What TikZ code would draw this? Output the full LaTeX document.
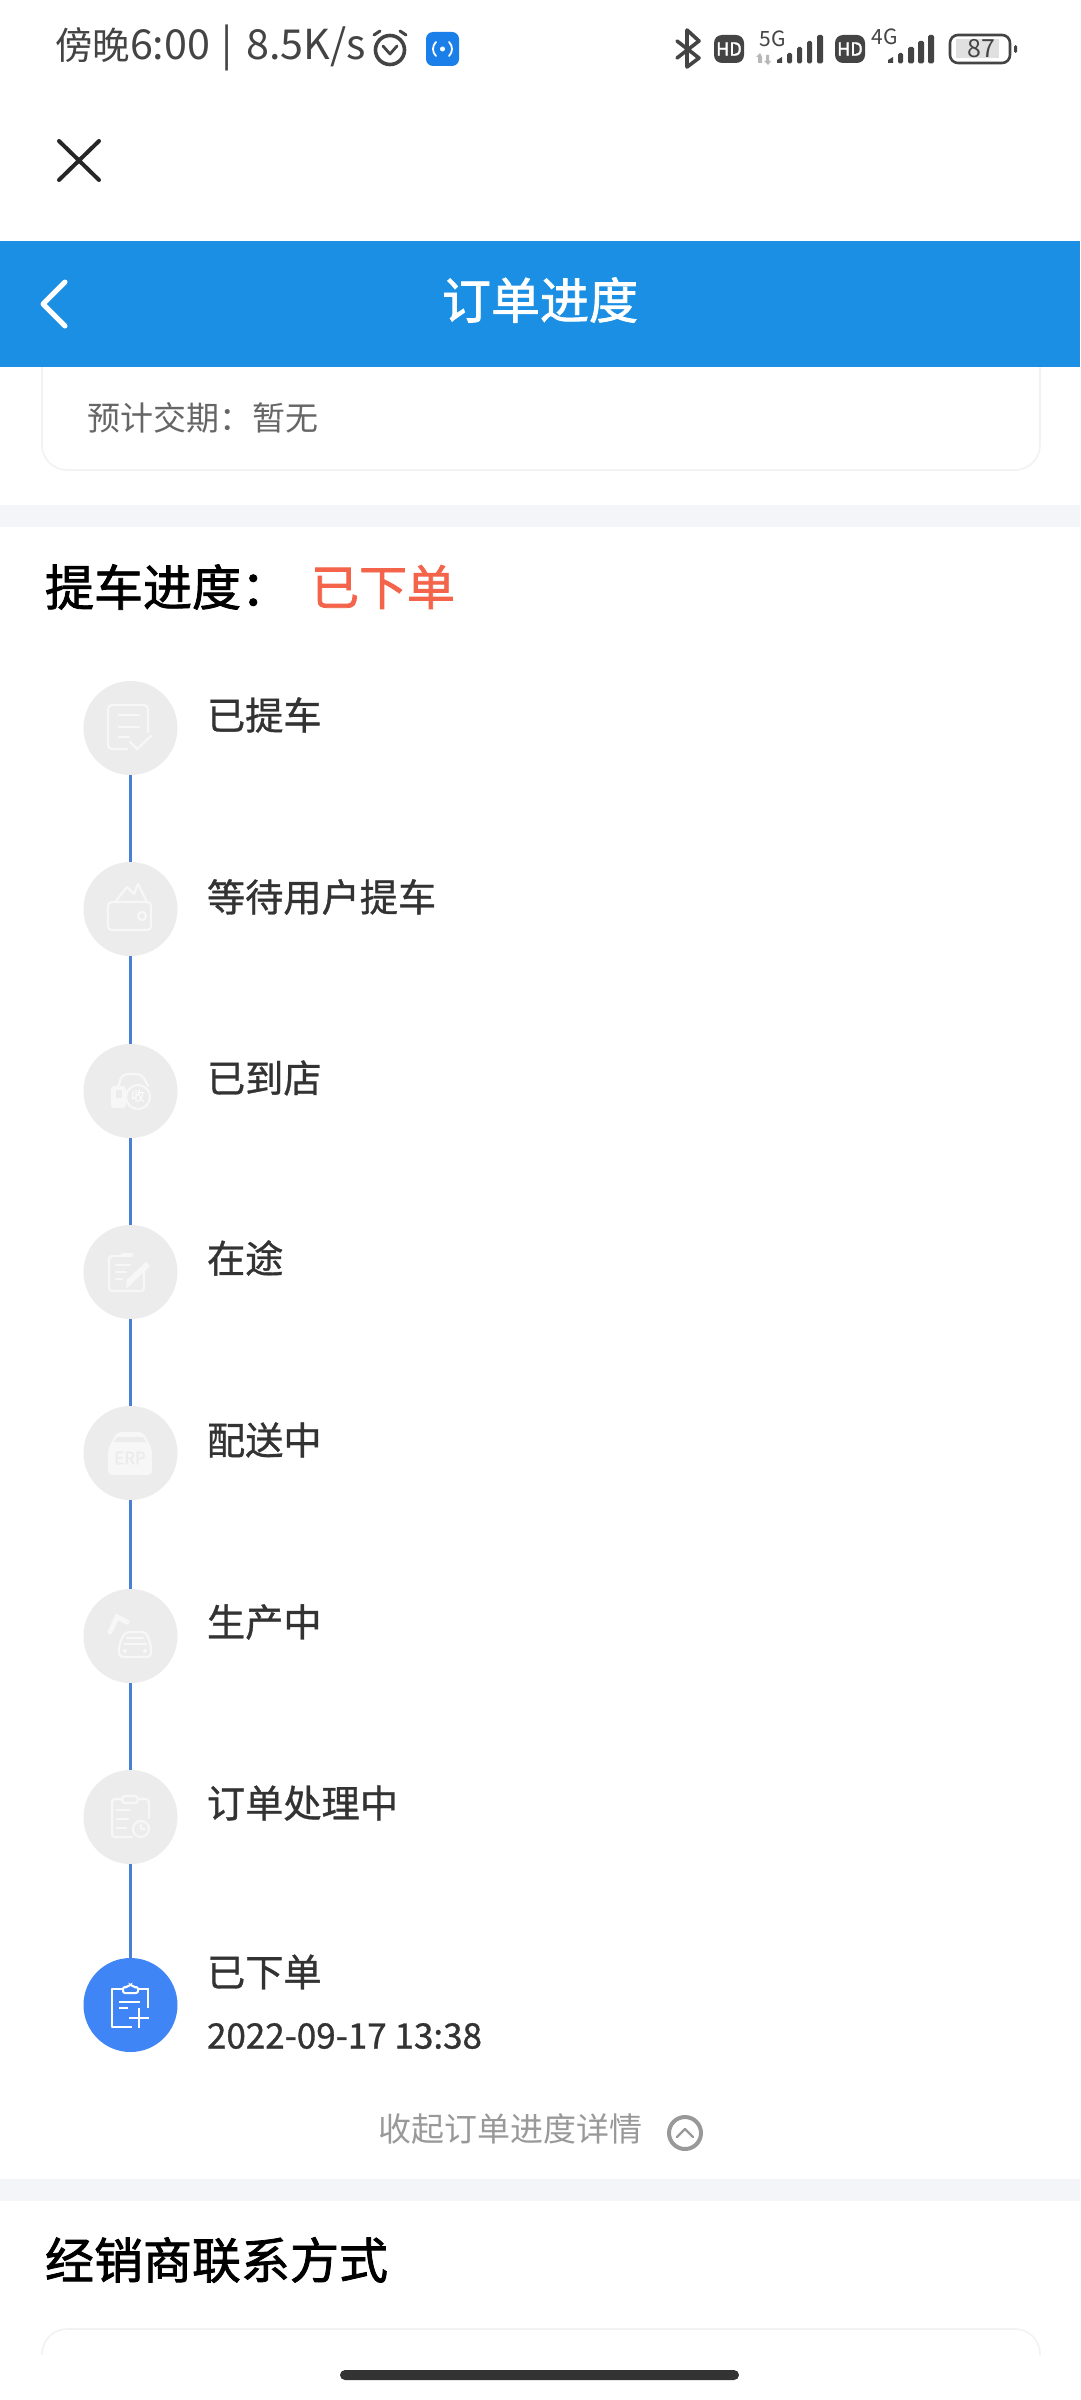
\documentclass[tikz,border=0pt]{standalone}
\usepackage{fontspec}
\setmainfont{Noto Sans CJK SC}
\newfontfamily\heavyface[FakeBold=1.6]{Noto Sans CJK SC}
\newfontfamily\midface[FakeBold=0.9]{Noto Sans CJK SC}
\newcommand{\pxfont}[1]{\fontsize{#1pt}{#1pt}\selectfont}
\definecolor{barblue}{HTML}{1A8FE3}
\definecolor{iconblue}{HTML}{1A7FE8}
\definecolor{doneblue}{HTML}{3F85F5}
\definecolor{linkblue}{HTML}{4A80D4}
\definecolor{stepgrey}{HTML}{ECECEC}
\definecolor{band}{HTML}{F4F5F9}
\definecolor{cardline}{HTML}{F2F2F4}
\definecolor{ink}{HTML}{333333}
\definecolor{statusink}{HTML}{444444}
\definecolor{hint}{HTML}{999999}
\definecolor{redorange}{HTML}{F4644A}
\tikzset{
  x=1pt,y=-1pt,
  lbl/.style={anchor=west,inner sep=0pt,outer sep=0pt,text=ink,font=\midface\pxfont{38.2}},
  plain/.style={inner sep=0pt,outer sep=0pt},
  stepdot/.style={circle,fill=stepgrey,draw=none,minimum size=94pt,inner sep=0pt,outer sep=0pt},
  donedot/.style={stepdot,fill=doneblue},
  conn/.style={draw=linkblue,line width=3.6pt},
  cardedge/.style={draw=cardline,line width=1.6pt,rounded corners=25pt},
  ic/.style={draw=white!97!black,line width=2.2pt,line cap=round,line join=round},
  icf/.style={fill=white!97!black,draw=none},
  sbar/.style={fill=statusink,draw=none,rounded corners=1.5pt},
}
\begin{document}
\begin{tikzpicture}
\useasboundingbox (0,0) rectangle (1080,2400);
\fill[white] (0,0) rectangle (1080,2400);

% status bar
\node[plain,anchor=west,text=statusink,font=\pxfont{37.5}] (clock) at (55,48) {傍晚{\pxfont{41.3}6:00\hspace{11pt}|\hspace{14pt}8.5K/s}};
\draw[statusink,line width=3.6pt] (390,50) circle (14.5pt);
\draw[statusink,line width=3pt,line cap=round] (374,35) -- (380,31) (406,35) -- (400,31);
\draw[statusink,line width=2.8pt,line cap=round,line join=round] (383,46) -- (390,54) -- (397,46);
\fill[iconblue,rounded corners=7pt] (426,32) rectangle (459,66);
\fill[white] (442.5,49) circle (2.5pt);
\draw[white,line width=1.8pt,line cap=round] (436,42) .. controls (432,46) and (432,52) .. (436,56) (449,42) .. controls (453,46) and (453,52) .. (449,56);
% right status icons
\draw[statusink,line width=3.6pt,line cap=round,line join=round] (677,41) -- (699,58) -- (687,67) -- (687,30) -- (699,41) -- (677,58);
\fill[statusink,rounded corners=8pt] (714,35) rectangle (744,63);
\node[plain,text=white,font=\heavyface\pxfont{18}] (hda) at (729,49) {HD};
\node[plain,text=statusink,font=\pxfont{21}] (fiveg) at (773,39) {5G};
\fill[black!28] (758,63) -- (758,57) -- (756,57) -- (760,53) -- (762,57) -- (762,63) -- cycle;
\fill[black!28] (766,55) -- (766,61) -- (764,61) -- (768,65) -- (771,61) -- (769,61) -- (769,55) -- cycle;
\fill[statusink] (777,63) -- (777,60) -- (782,57) -- (782,63) -- cycle;
\fill[sbar] (787,63.3) rectangle (792,53);
\fill[sbar] (797,63.3) rectangle (802,47);
\fill[sbar] (807,63.3) rectangle (812,41);
\fill[sbar] (817,63.3) rectangle (823,35);
\fill[statusink,rounded corners=8pt] (835,35) rectangle (865,63);
\node[plain,text=white,font=\heavyface\pxfont{18}] (hdb) at (850,49) {HD};
\node[plain,text=statusink,font=\pxfont{21}] (fourg) at (885,37) {4G};
\fill[statusink] (888,63) -- (888,60) -- (893,57) -- (893,63) -- cycle;
\fill[sbar] (898,63.3) rectangle (903,53);
\fill[sbar] (908,63.3) rectangle (914,47);
\fill[sbar] (918,63.3) rectangle (924,41);
\fill[sbar] (928,63.3) rectangle (934,35);
\fill[black!12] (956,39) rectangle (999,58);
\draw[statusink,line width=2.6pt,rounded corners=8pt] (950,35) rectangle (1010,63);
\fill[statusink,rounded corners=1.5pt] (1014,45) rectangle (1017,53);
\node[plain,text=statusink,font=\pxfont{25}] (batt) at (981,48.5) {87};
% close
\draw[black!85,line width=4pt,line cap=round] (59,141) -- (99,180) (99,141) -- (59,180);

% card behind the header
\draw[cardedge] (42,360) -- (42,470) -- (1040,470) -- (1040,360);
% header
\fill[barblue] (0,241) rectangle (1080,367);
\draw[white,line width=5pt,line cap=round,line join=round] (65,282) -- (43,304) -- (65,326);
\node[plain,text=white,font=\heavyface\pxfont{49}] (title) at (540,300) {订单进度};
\node[plain,anchor=west,text=black!60,font=\pxfont{33}] (eta) at (87,418) {预计交期：暂无};

% bands
\fill[band] (0,505) rectangle (1080,527);
\fill[band] (0,2179) rectangle (1080,2201);

% section head
\node[plain,anchor=west,text=black,font=\heavyface\pxfont{49}] (head) at (45,587) {提车进度：};
\node[plain,anchor=west,text=redorange,font=\heavyface\pxfont{48}] (state) at (311,587) {已下单};

% timeline
\node[stepdot] (c1) at (130.5,728) {};
\node[stepdot] (c2) at (130.5,909) {};
\node[stepdot] (c3) at (130.5,1091) {};
\node[stepdot] (c4) at (130.5,1272) {};
\node[stepdot] (c5) at (130.5,1453) {};
\node[stepdot] (c6) at (130.5,1636) {};
\node[stepdot] (c7) at (130.5,1817) {};
\node[donedot] (c8) at (130.5,2005) {};
\draw[conn] (c1) -- (c2);
\draw[conn] (c2) -- (c3);
\draw[conn] (c3) -- (c4);
\draw[conn] (c4) -- (c5);
\draw[conn] (c5) -- (c6);
\draw[conn] (c6) -- (c7);
\draw[conn] (c7) -- (c8);

\node[lbl] (t1) at (207,715) {已提车};
\node[lbl] (t2) at (207,897) {等待用户提车};
\node[lbl] (t3) at (207,1078) {已到店};
\node[lbl] (t4) at (207,1258) {在途};
\node[lbl] (t5) at (207,1440) {配送中};
\node[lbl] (t6) at (207,1622) {生产中};
\node[lbl] (t7) at (207,1803) {订单处理中};
\node[lbl] (t8) at (207,1972) {已下单};
\node[lbl,font=\midface\pxfont{35}] (t9) at (207,2036) {2022-09-17 13:38};

% icon 1: document and tick
\draw[ic,rounded corners=4pt] (148,732) -- (148,705) -- (108,705) -- (108,749) -- (127,749);
\draw[ic] (119,715) -- (139,715) (119,727) -- (139,727) (119,737) -- (129,737);
\draw[ic] (130,742) -- (137,749) -- (151,736);
% icon 2: wallet
\draw[ic,rounded corners=4pt] (108,902) rectangle (151,930);
\draw[ic] (115,902) -- (127,887) -- (134,894) -- (138,884) -- (147,902);
\draw[ic] (142,916) circle (4pt);
% icon 3: car with round stamp
\draw[ic,rounded corners=6pt] (117,1090) -- (122,1074) -- (142,1074) -- (148,1086);
\fill[white!97!black,rounded corners=3pt] (111,1086) rectangle (126,1108);
\fill[stepgrey] (116,1090) rectangle (122,1098);
\draw[ic,fill=stepgrey] (138,1097) circle (12pt);
\node[plain,text=white,font=\pxfont{14}] (stamp) at (138,1096.5) {收};
% icon 4: note and pen
\draw[ic,rounded corners=3pt] (132,1256) -- (109,1256) -- (109,1291) -- (144,1291) -- (144,1272);
\draw[ic,line width=3pt] (122,1254) -- (132,1254);
\draw[ic] (116,1265) -- (130,1265) (116,1272) -- (126,1272) (116,1279) -- (122,1279);
\draw[ic,line width=6pt,line cap=butt] (148,1264) -- (129,1282);
\fill[white!97!black] (126,1288) -- (127,1279) -- (132,1284) -- cycle;
% icon 5: box
\fill[white!97!black,rounded corners=4pt] (117,1432) -- (143,1432) -- (152,1449) -- (152,1475) -- (108,1475) -- (108,1449) -- cycle;
\fill[stepgrey] (117,1437) -- (143,1437) -- (146,1442) -- (114,1442) -- cycle;
\node[plain,text=stepgrey,font=\heavyface\itshape\pxfont{17}] (erp) at (130,1458) {ERP};
% icon 6: robot arm and car
\draw[ic,line width=5pt,line join=miter] (110,1632) -- (117,1617) -- (127,1622);
\draw[ic,rounded corners=4pt] (119,1657) -- (119,1645) -- (125,1632) -- (146,1632) -- (151,1645) -- (151,1657) -- cycle;
\draw[ic] (124,1644) -- (146,1644) (127,1638) -- (143,1638);
\fill[white!97!black] (125,1651) circle (2pt) (145,1651) circle (2pt);
% icon 7: clipboard and clock
\draw[ic,rounded corners=3pt] (149,1818) -- (149,1799) -- (112,1799) -- (112,1837) -- (132,1837);
\draw[ic,rounded corners=3pt,fill=stepgrey] (122,1796) rectangle (138,1803);
\draw[ic] (117,1810) -- (130,1810) (117,1819) -- (128,1819) (117,1828) -- (126,1828);
\draw[ic] (141,1829) circle (8pt);
\draw[ic,line width=1.5pt] (141,1824) -- (141,1829) -- (145,1829);
% icon 8: clipboard and plus
\draw[white,line width=2pt,line join=round] (123,1989) -- (112,1989) -- (112,2027) -- (132,2027);
\draw[white,line width=2pt] (138,1989) -- (148,1989) -- (148,2008);
\draw[white,line width=2pt,rounded corners=2pt] (123,1993) -- (123,1987) -- (128,1987) -- (130.5,1984) -- (133,1987) -- (138,1987) -- (138,1993) -- cycle;
\draw[white,line width=2pt] (119,2002) -- (140,2002) (119,2008) -- (128,2008);
\draw[white,line width=2pt] (129,2018) -- (149,2018) (139,2008) -- (139,2028);

% collapse row
\node[plain,text=hint,font=\pxfont{33}] (fold) at (510,2129) {收起订单进度详情};
\node[circle,draw=hint,line width=4pt,minimum size=32pt,inner sep=0pt,outer sep=0pt] (foldc) at (685,2133) {};
\draw[hint,line width=2.4pt,line cap=round,line join=round] (677,2137) -- (685,2129) -- (693,2137);

% second section
\node[plain,anchor=west,text=black,font=\heavyface\pxfont{49}] (dealer) at (45,2260) {经销商联系方式};
\draw[cardedge] (42,2355) -- (42,2329) -- (1040,2329) -- (1040,2355);
\fill[ink,rounded corners=5pt] (340,2370) rectangle (739,2380);
\end{tikzpicture}
\end{document}
